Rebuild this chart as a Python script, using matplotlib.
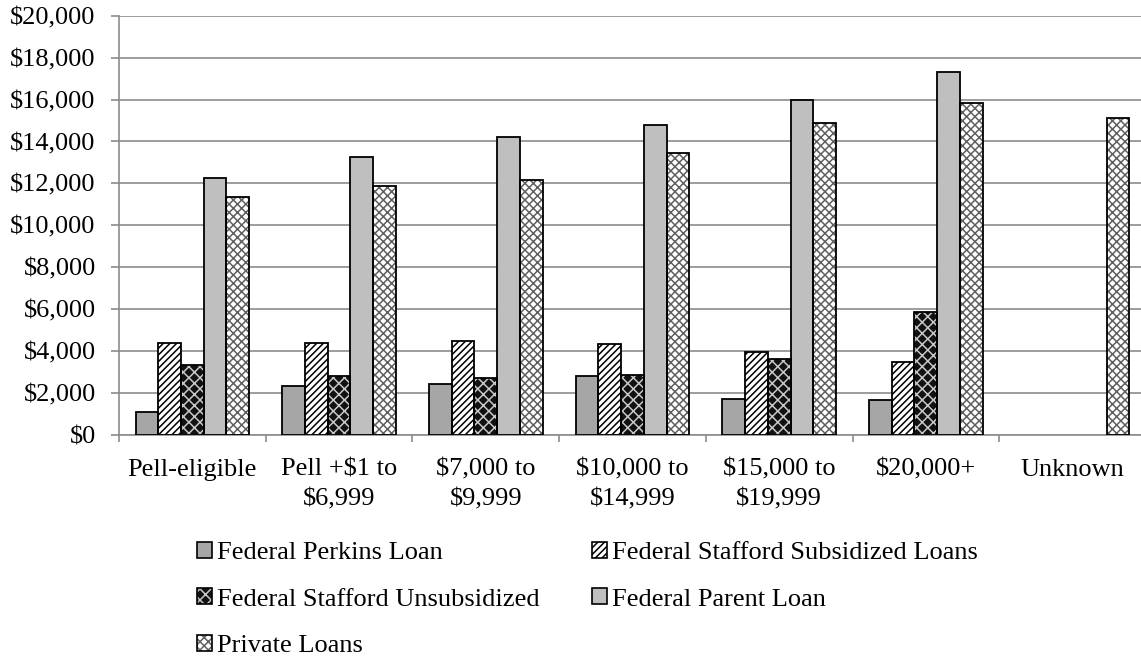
import matplotlib.pyplot as plt
import numpy as np
from matplotlib.patches import Patch

plt.rcParams['font.family'] = ['Liberation Serif', 'DejaVu Serif']
plt.rcParams['hatch.linewidth'] = 1.1

categories = ['Pell-eligible', 'Pell +$1 to\n$6,999', '$7,000 to\n$9,999',
              '$10,000 to\n$14,999', '$15,000 to\n$19,999', '$20,000+', 'Unknown']
series = ['Federal Perkins Loan', 'Federal Stafford Subsidized Loans',
          'Federal Stafford Unsubsidized', 'Federal Parent Loan', 'Private Loans']
perkins = [1100, 2350, 2450, 2800, 1700, 1650, 0]
subsidized = [4400, 4400, 4500, 4350, 3950, 3500, 0]
unsubsidized = [3350, 2800, 2700, 2850, 3600, 5850, 0]
parent = [12250, 13250, 14200, 14800, 16000, 17300, 0]
private = [11350, 11900, 12150, 13450, 14900, 15850, 15100]

values = [perkins, subsidized, unsubsidized, parent, private]
# (face, hatch colour, hatch)
styles = [('#a6a6a6', '#a6a6a6', None),
          ('white', 'black', '/////'),
          ('#111111', '#c8c8c8', 'xxx'),
          ('#bfbfbf', '#bfbfbf', None),
          ('white', '#606060', 'xxxx')]

fs = 19
fig = plt.figure(figsize=(11.41, 6.56), dpi=100)
ax = fig.add_axes([0.1043, 0.337, 0.900, 0.639])

x = np.arange(len(categories))
w = 0.155
for i, (vals, (fc, hc, hatch)) in enumerate(zip(values, styles)):
    pos = x + (i - 2) * w
    v = np.array(vals)
    keep = v > 0
    ax.bar(pos[keep], v[keep], w, color=fc, edgecolor=hc, hatch=hatch,
           linewidth=0, zorder=2)
    ax.bar(pos[keep], v[keep], w, fill=False, edgecolor='black',
           linewidth=1.3, zorder=3)

ax.set_xlim(-0.5, len(categories) - 0.5)
ax.set_ylim(0, 20000)
ax.set_yticks(np.arange(0, 20001, 2000))
ax.set_yticklabels(['${:,}'.format(t) for t in range(0, 20001, 2000)], fontsize=fs)
ax.yaxis.grid(True, color='#8c8c8c', linewidth=1.2, zorder=0)
ax.set_axisbelow(True)

ax.set_xticks(x)
ax.set_xticklabels(categories, fontsize=fs, linespacing=1.45)
ax.set_xticks(np.arange(-0.5, len(categories), 1), minor=True)
ax.tick_params(axis='x', which='major', length=0, pad=17)
ax.tick_params(axis='x', which='minor', length=5, color='#8c8c8c', width=1.2)
ax.tick_params(axis='y', length=5.8, color='#8c8c8c', width=1.2, pad=11)

for s in ['top', 'right']:
    ax.spines[s].set_visible(False)
ax.spines['left'].set_color('#8c8c8c')
ax.spines['bottom'].set_color('#8c8c8c')
ax.spines['left'].set_linewidth(1.2)
ax.spines['bottom'].set_linewidth(1.2)

handles = []
for fc, hc, hatch in styles:
    fill = Patch(facecolor=fc, edgecolor=hc, hatch=hatch, linewidth=0)
    edge = Patch(fill=False, edgecolor='black', linewidth=1.2)
    handles.append((fill, edge))
# row-wise order for a 2 column legend
order = [0, 2, 4, 1, 3]
leg = fig.legend([handles[k] for k in order], [series[k] for k in order],
                 loc='upper left', bbox_to_anchor=(0.1727, 0.174), ncol=2,
                 frameon=False, fontsize=fs, handlelength=0.55,
                 handleheight=0.55, handletextpad=0.2, columnspacing=2.0,
                 labelspacing=0.92, borderpad=0, borderaxespad=0)

fig.savefig('out.png', dpi=100)
